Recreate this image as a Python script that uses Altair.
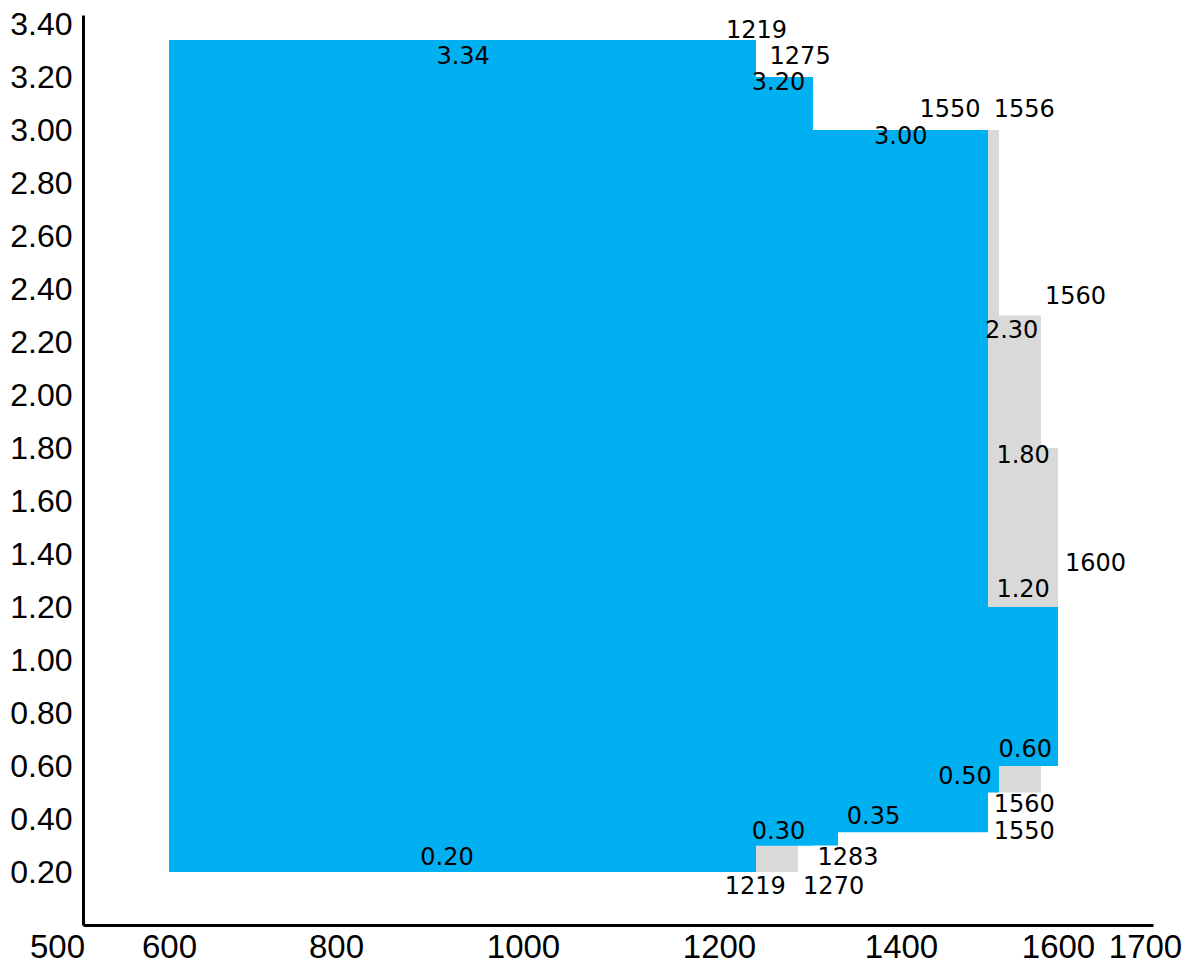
import altair as alt
import pandas as pd

# Blue region as overlapping rectangles (their union is the stepped shape)
blue_x0 = [600, 600, 600, 600, 600, 600]
blue_x1 = [1219, 1275, 1283, 1550, 1556, 1600]
blue_y0 = [0.20, 0.30, 0.30, 0.35, 0.50, 0.60]
blue_y1 = [3.34, 3.20, 3.00, 3.00, 1.20, 1.20]

# Gray regions (overlapping rectangles)
gray_x0 = [1550, 1550, 1550, 1556, 1219]
gray_x1 = [1556, 1560, 1600, 1560, 1270]
gray_y0 = [1.20, 1.20, 1.20, 0.50, 0.20]
gray_y1 = [3.00, 2.30, 1.80, 0.60, 0.30]

# Annotations (text, x, y in data units)
label_text = ["1219", "1275", "3.20", "1550", "1556", "3.00", "3.34", "1560",
              "2.30", "1.80", "1600", "1.20", "0.60", "0.50", "1560", "1550",
              "0.35", "0.30", "1283", "0.20", "1219", "1270"]
label_x = [1219.5, 1270.7, 1246.3, 1484.5, 1558.4, 1399.6, 936, 1618.4,
           1557.2, 1558.3, 1639.5, 1558.3, 1558.5, 1510.3, 1558.4, 1558.4,
           1348.9, 1246.3, 1301.6, 918.7, 1218.6, 1281.6]
label_y = [3.374, 3.277, 3.177, 3.075, 3.075, 2.974, 3.277, 2.370,
           2.243, 1.768, 1.364, 1.264, 0.660, 0.558, 0.453, 0.351,
           0.408, 0.351, 0.251, 0.253, 0.145, 0.145]

# Axis ticks
x_ticks = [500, 600, 800, 1000, 1200, 1400, 1600, 1700]
y_ticks = [0.2, 0.4, 0.6, 0.8, 1.0, 1.2, 1.4, 1.6, 1.8, 2.0, 2.2, 2.4, 2.6,
           2.8, 3.0, 3.2, 3.4]

# Schematic (non-proportional) x axis: piecewise-linear scale
x_break = [500, 600, 800, 1000, 1200, 1219, 1270, 1275, 1283, 1400, 1550,
           1556, 1560, 1600, 1700]
x_pixel = [0, 86, 253, 440, 636, 673, 715, 730, 755, 818, 905, 916, 958,
           975, 1070]

W, H = 1070, 910

blue_df = pd.DataFrame({"x0": blue_x0, "x1": blue_x1, "y0": blue_y0, "y1": blue_y1})
gray_df = pd.DataFrame({"x0": gray_x0, "x1": gray_x1, "y0": gray_y0, "y1": gray_y1})
lab_df = pd.DataFrame({"t": label_text, "x": label_x, "y": label_y})

xscale = alt.Scale(domain=x_break, range=x_pixel, nice=False, zero=False)
yscale = alt.Scale(domain=[0, 3.434], nice=False, zero=False)

xaxis = alt.Axis(
    title=None, values=x_ticks, format="d", grid=False, ticks=False, tickSize=0,
    labelFont="Liberation Sans", labelFontSize=33, labelColor="black",
    labelPadding=6, labelFlush=False, labelOverlap=False,
    domainColor="black", domainWidth=3,
    labelOffset={
        "condition": [
            {"test": "datum.value == 500", "value": -26},
            {"test": "datum.value == 1700", "value": -8},
        ],
        "value": 0,
    },
)
yaxis = alt.Axis(
    title=None, values=y_ticks, format=".2f", grid=False, ticks=False, tickSize=0,
    labelFont="Liberation Sans", labelFontSize=32, labelColor="black",
    labelPadding=11, labelFlush=False, labelOverlap=False,
    domainColor="black", domainWidth=3,
)

gray = alt.Chart(gray_df).mark_rect(color="#D9D9D9").encode(
    x=alt.X("x0:Q", scale=xscale, axis=xaxis),
    x2="x1:Q",
    y=alt.Y("y0:Q", scale=yscale, axis=yaxis),
    y2="y1:Q",
)

blue = alt.Chart(blue_df).mark_rect(color="#00B0F0").encode(
    x=alt.X("x0:Q", scale=xscale),
    x2="x1:Q",
    y=alt.Y("y0:Q", scale=yscale),
    y2="y1:Q",
)

text = alt.Chart(lab_df).mark_text(
    font="DejaVu Sans", fontSize=24, color="black", align="center", baseline="middle"
).encode(
    x=alt.X("x:Q", scale=xscale),
    y=alt.Y("y:Q", scale=yscale),
    text="t:N",
)

chart = alt.layer(gray, blue, text).properties(
    width=W, height=H,
    autosize=alt.AutoSizeParams(type="none"),
    padding={"left": 75, "top": 7, "right": 30, "bottom": 40},
).configure_view(stroke=None)

chart.save("out.html", embed_options={"renderer": "svg", "actions": False})
